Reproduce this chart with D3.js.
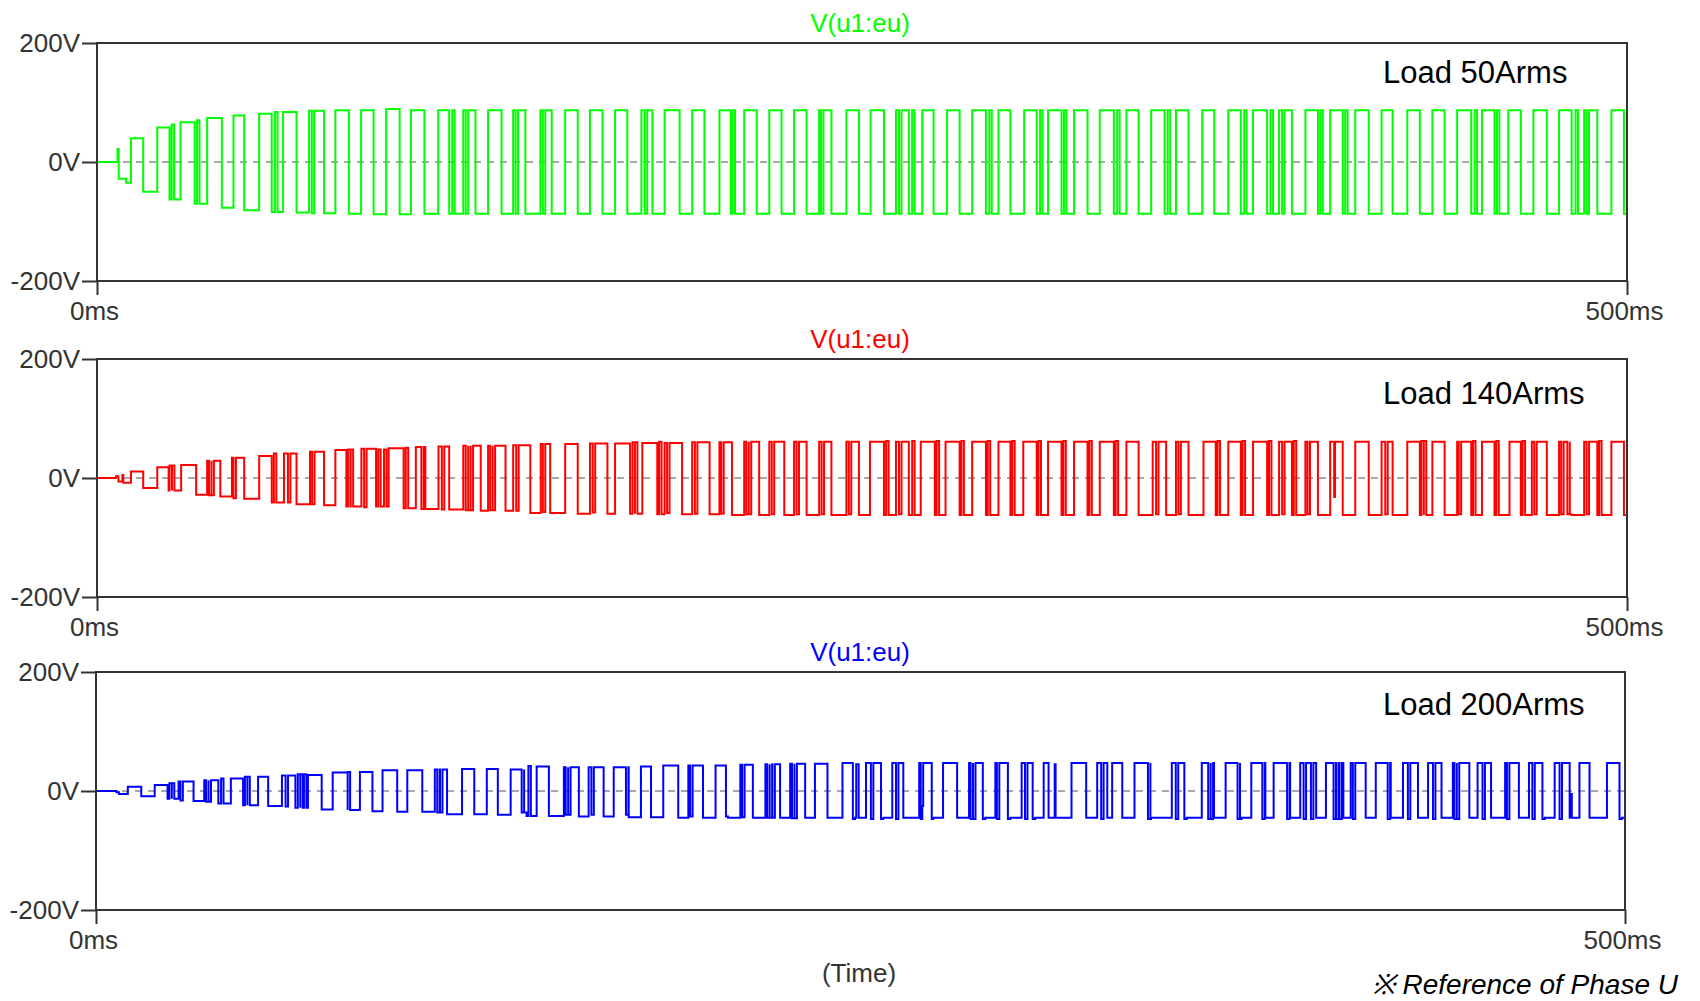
<!DOCTYPE html>
<html>
<head>
<meta charset="utf-8">
<script src="https://cdn.jsdelivr.net/npm/d3@7"></script>
<style>
  html, body { margin: 0; padding: 0; background: #fff; }
  svg { display: block; }
</style>
</head>
<body>
<svg id="chart" width="1700" height="1001"></svg>
<script>
// ---- data ----
const loads = ['Load 50Arms', 'Load 140Arms', 'Load 200Arms'];
const traceName = 'V(u1:eu)';
const yTicks = [-200, 0, 200];
const xTicks = [0, 500];

// levels before the first pulse: [ms, V]
const greenPre = [[0, 0], [6.7, 22], [7.1, -28], [9.5, -35]];
// high pulses: [rise ms, fall ms]
const greenPulses = [[11.1,15.1],[19.7,23.7],[27.3,31.9],[36.0,40.8],[44.6,48.1],[53.0,57.1],[60.8,65.2],[69.3,74.2],
  [77.9,82.3],[86.3,90.4],[94.5,98.9],[102.6,107.0],[111.5,115.1],[119.7,123.7],[127.8,132.2],[136.0,140.0],
  [144.9,148.6],[153.0,157.1],[161.1,165.2],[169.3,173.3],[177.9,181.5],[185.5,190.4],[194.5,198.5],[203.4,207.1],
  [211.5,215.6],[219.7,223.7],[227.8,231.9],[236.0,240.0],[244.9,249.0],[252.8,257.2],[261.1,265.3],[269.7,273.4],
  [277.8,281.9],[286.0,290.5],[294.6,298.5],[303.0,307.1],[310.8,315.2],[319.3,323.7],[327.7,332.3],[336.4,340.4],
  [344.5,348.9],[352.6,356.7],[361.2,365.1],[369.7,373.8],[377.8,382.4],[386.3,390.5],[394.9,399.0],[403.0,407.1],
  [411.2,415.6],[419.8,423.4],[428.2,432.3],[436.4,440.4],[444.5,449.1],[452.6,456.7],[461.2,465.3],[469.4,473.8],
  [477.8,481.9],[486.0,490.3],[494.9,499.0]];
// pulse tops / bottoms during the ramp (V), then steady
const greenTop = [40, 58, 67, 74, 78, 81, 84, 86, 87, 87, 89];
const greenBot = [-50, -63, -70, -77, -81, -84, -85, -86, -87, -88, -88];
const greenSteady = [87, -87];
const greenNotches = [24.4, 32.7, 58.2, 70.2, 116.1, 120.5, 136.8, 145.7, 179.0, 207.7, 236.6,
  262.1, 266.4, 291.6, 308.2, 316.0, 333.4, 349.9, 374.9, 383.5, 387.3, 399.8, 407.9, 450.2, 457.5, 483.2, 486.8];
const greenSpikes = [];

const redPre = [[0, 0], [6.2, 3], [7.0, -6], [8.3, 5], [8.6, -8]];
const redPulses = [[11.1,15.1],[19.7,23.4],[27.5,32.4],[36.0,40.3],[44.1,48.1],[53.0,57.1],[61.1,65.2],[69.6,74.2],
  [77.9,81.5],[86.4,91.2],[95.3,100.2],[104.2,107.3],[111.6,115.1],[119.7,125.4],[127.8,133.5],[136.0,141.6],
  [145.0,148.1],[153.0,157.1],[161.1,166.8],[169.3,174.2],[178.2,183.1],[185.5,191.2],[194.5,200.2],[203.4,207.5],
  [211.5,216.4],[219.7,224.6],[227.8,231.9],[236.0,240.0],[244.9,249.0],[252.6,257.2],[261.1,265.3],[269.2,273.8],
  [277.3,281.9],[286.0,290.5],[294.6,298.5],[302.7,307.1],[310.8,315.2],[319.3,323.7],[327.7,332.3],[336.4,340.4],
  [345.0,349.4],[352.6,356.7],[361.6,365.6],[369.7,373.8],[377.8,382.4],[386.3,390.5],[394.9,399.0],[403.0,407.1],
  [411.2,415.6],[419.8,423.4],[428.2,432.3],[436.4,440.4],[444.5,449.1],[452.6,456.7],[461.6,465.3],[468.9,473.8],
  [477.8,481.9],[486.0,490.3],[494.9,499.0]];
const redTop = [11, 18, 22, 29, 34, 37, 41, 44, 47, 49, 50, 52, 53, 54, 54, 55, 57, 57, 58, 58, 59, 59, 60, 60, 61];
const redBot = [-17, -21, -28, -31, -35, -41, -44, -46, -48, -48, -51, -52, -53, -55, -55, -59, -59, -60, -60, -60, -61, -61, -61, -62, -62];
const redSteady = [61, -62];
const redNotches = [23.7, 24.5, 36.6, 37.4, 44.6, 57.8, 62.4, 70.3, 82.0, 82.9, 87.3, 91.9, 93.8, 100.9, 106.0,
  112.7, 120.5, 121.3, 122.1, 128.5, 129.3, 137.0, 145.7, 162.0, 175.0, 175.8, 183.7, 186.3, 195.4, 204.0, 212.2,
  213.0, 220.5, 228.6, 236.8, 245.7, 257.9, 262.1, 266.4, 274.4, 282.5, 291.1, 299.1, 307.7, 315.8, 324.3, 332.9,
  346.1, 353.4, 366.2, 374.4, 383.0, 387.3, 391.1, 395.6, 421.0, 432.8, 433.6, 445.0, 449.7, 457.3, 465.9, 469.7,
  478.5, 480.5, 481.3, 486.8, 490.9];
const redSpikes = [[404.3, -32]];

const bluePre = [[0, 0], [6.7, -2], [7.5, -5]];
const bluePulses = [[10.4,14.8],[19.2,23.4],[27.0,31.9],[35.4,40.0],[44.1,48.1],[53.0,56.3],[60.8,65.2],[69.3,73.8],
  [77.4,82.3],[86.3,90.4],[93.7,98.5],[101.8,106.7],[110.8,114.8],[119.7,123.7],[127.8,131.4],[135.6,140.8],
  [144.1,148.1],[153.0,157.9],[161.1,166.0],[169.3,174.2],[178.2,181.5],[185.5,190.4],[193.7,198.5],[202.6,206.7],
  [210.7,214.8],[218.9,223.7],[227.0,231.9],[235.1,239.2],[244.1,248.2],[251.8,257.5],[260.4,264.0],[269.2,273.8],
  [277.0,281.6],[285.5,290.8],[294.1,299.0],[302.7,307.1],[309.9,311.5],[319.0,323.8],[327.4,330.7],[332.3,335.6],
  [339.6,345.0],[351.8,356.7],[361.6,365.6],[369.4,374.6],[377.8,382.4],[385.1,390.5],[393.8,399.0],[402.2,407.9],
  [410.3,415.2],[418.5,423.4],[427.4,432.3],[435.6,440.0],[443.7,449.1],[451.8,456.2],[460.8,465.3],[468.6,473.8],
  [477.0,481.9],[485.1,488.4],[494.1,499.0]];
const blueTop = [7, 10, 16, 18, 21, 24, 26, 27, 31, 32, 35, 35, 36, 37, 37, 36, 41, 40, 40, 40, 41, 43, 43, 43, 44, 45, 46, 46, 47];
const blueBot = [-9, -13, -17, -21, -24, -25, -28, -31, -32, -34, -35, -35, -39, -39, -40, -42, -42, -43, -43, -44, -44, -45];
const blueSteady = [47, -45];
const blueNotches = [24.0, 24.8, 27.6, 28.4, 36.0, 36.8, 40.9, 48.7, 49.5, 62.0, 66.0, 66.8, 68.0, 82.3, 111.6,
  112.5, 139.2, 140.0, 141.4, 153.6, 154.4, 162.0, 173.3, 174.1, 194.3, 195.1, 206.0, 211.3, 212.1, 219.5, 220.3,
  221.2, 227.6, 228.4, 247.5, 248.6, 253.4, 256.7, 261.6, 269.7, 273.3, 286.0, 286.8, 290.0, 294.6, 295.4, 298.2,
  303.8, 306.3, 328.7, 344.0, 344.8, 353.1, 355.9, 363.7, 364.5, 373.3, 374.1, 381.4, 389.5, 394.9, 397.3, 404.7,
  405.6, 406.6, 411.0, 422.4, 429.0, 437.2, 444.2, 445.0, 453.4, 461.4, 469.7, 473.0, 478.6, 498.2];
const blueSpikes = [[270.2, -25], [313.5, 45], [482.3, -5]];

const colors = ['#00ff00', '#ff0000', '#0000ff'];

// ---- layout ----
const panels = [
  { top: 43,  left: 97, right: 1627, loadY: 83 },
  { top: 359, left: 97, right: 1627, loadY: 404 },
  { top: 672, left: 96, right: 1625, loadY: 715 }
];
const panelH = 238;
const notchW = 0.8;

const traces = [
  { pre: greenPre, pulses: greenPulses, top: greenTop, bot: greenBot, steady: greenSteady, notches: greenNotches, spikes: greenSpikes },
  { pre: redPre, pulses: redPulses, top: redTop, bot: redBot, steady: redSteady, notches: redNotches, spikes: redSpikes },
  { pre: bluePre, pulses: bluePulses, top: blueTop, bot: blueBot, steady: blueSteady, notches: blueNotches, spikes: blueSpikes }
];

// build the step events [ms, V] for a trace
function buildSteps(tr) {
  let ev = tr.pre.map(d => [d[0], d[1]]);
  tr.pulses.forEach((p, i) => {
    ev.push([p[0], i < tr.top.length ? tr.top[i] : tr.steady[0]]);
    ev.push([p[1], i < tr.bot.length ? tr.bot[i] : tr.steady[1]]);
  });
  ev.sort((a, b) => a[0] - b[0]);
  const base = ev.slice();
  const levelAt = t => {
    let v = 0;
    for (const e of base) { if (e[0] <= t) v = e[1]; else break; }
    return v;
  };
  const extra = [];
  tr.notches.forEach(t => {
    const v = levelAt(t);
    extra.push([t, -v], [t + notchW, levelAt(t + notchW)]);
  });
  tr.spikes.forEach(s => {
    extra.push([s[0], s[1]], [s[0] + 0.3, levelAt(s[0] + 0.3)]);
  });
  ev = ev.concat(extra).sort((a, b) => a[0] - b[0]);
  ev.push([500, ev[ev.length - 1][1]]);
  return ev;
}

const svg = d3.select('#chart');
const font = '"Liberation Sans", Arial, sans-serif';

panels.forEach((pn, i) => {
  const x = d3.scaleLinear().domain([0, 500]).range([pn.left, pn.right]);
  const y = d3.scaleLinear().domain([-200, 200]).range([pn.top + panelH, pn.top]);
  const g = svg.append('g');

  // zero dashed line
  g.append('line')
    .attr('x1', x(0)).attr('x2', x(500)).attr('y1', y(0)).attr('y2', y(0))
    .attr('stroke', '#a8a8a8').attr('stroke-width', 2).attr('stroke-dasharray', '7,6');

  // waveform
  const clipId = 'clip' + i;
  svg.append('clipPath').attr('id', clipId).append('rect')
    .attr('x', x(0)).attr('y', y(200)).attr('width', x(500) - x(0)).attr('height', panelH);
  const line = d3.line().x(d => x(d[0])).y(d => y(d[1])).curve(d3.curveStepAfter);
  g.append('path')
    .datum(buildSteps(traces[i]))
    .attr('clip-path', `url(#${clipId})`)
    .attr('fill', 'none')
    .attr('stroke', colors[i])
    .attr('stroke-width', 2)
    .attr('d', line);

  // frame
  g.append('rect')
    .attr('x', x(0)).attr('y', y(200)).attr('width', x(500) - x(0)).attr('height', panelH)
    .attr('fill', 'none').attr('stroke', '#333').attr('stroke-width', 2);

  // axes
  const yAxis = g.append('g').attr('transform', `translate(${x(0)},0)`)
    .call(d3.axisLeft(y).tickValues(yTicks).tickSize(15).tickSizeOuter(0).tickPadding(2).tickFormat(d => d + 'V'));
  const xAxis = g.append('g').attr('transform', `translate(0,${y(-200)})`)
    .call(d3.axisBottom(x).tickValues(xTicks).tickSize(14).tickSizeOuter(0).tickPadding(7).tickFormat(d => d + 'ms'));
  [yAxis, xAxis].forEach(a => {
    a.select('.domain').remove();
    a.selectAll('line').attr('stroke', '#333').attr('stroke-width', 2);
    a.selectAll('text').attr('fill', '#333').style('font-family', font).style('font-size', '26px');
  });
  xAxis.selectAll('text').attr('dx', -3);

  // trace title
  g.append('text')
    .attr('x', 860).attr('y', pn.top - 11)
    .attr('text-anchor', 'middle')
    .attr('fill', colors[i])
    .style('font-family', font).style('font-size', '26px')
    .text(traceName);

  // load label
  g.append('text')
    .attr('x', 1383).attr('y', pn.loadY)
    .attr('fill', '#000')
    .style('font-family', font).style('font-size', '31px')
    .text(loads[i]);
});

svg.append('text')
  .attr('x', 859).attr('y', 982)
  .attr('text-anchor', 'middle')
  .attr('fill', '#333')
  .style('font-family', font).style('font-size', '26px')
  .text('(Time)');

svg.append('text')
  .attr('x', 1678).attr('y', 994)
  .attr('text-anchor', 'end')
  .attr('fill', '#000')
  .style('font-family', font).style('font-size', '28px').style('font-style', 'italic')
  .text('※ Reference of Phase U');
</script>
</body>
</html>
